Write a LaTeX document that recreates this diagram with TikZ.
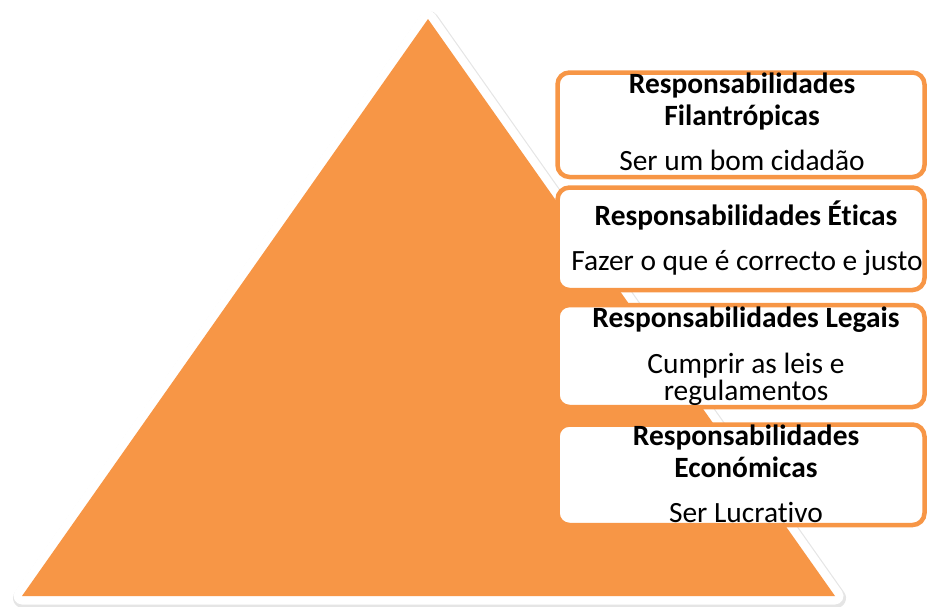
\documentclass[tikz,border=0pt]{standalone}
\usepackage{fontspec}
\setmainfont{Carlito}[Ligatures={NoCommon}]
\definecolor{pyramid}{HTML}{F79646}
\begin{document}
\begin{tikzpicture}[x=1pt,y=-1pt,
  levelbox/.style={draw=pyramid, line width=4.5pt, fill=white, rounded corners=12pt},
  head/.style={anchor=base, inner sep=0pt, font=\fontsize{29.4}{32}\selectfont\bfseries},
  body/.style={anchor=base, inner sep=0pt, font=\fontsize{29.4}{32}\selectfont}]
\useasboundingbox (0,0) rectangle (928,606);
% pyramid corners
\coordinate (apex) at (428,19);
\coordinate (bl) at (22,596);
\coordinate (br) at (835,596);
% soft shadow, white rim, orange body
\draw[black, opacity=0.10, line width=20pt, line join=round]
  ([shift={(1,2)}]apex) -- ([shift={(1,2)}]bl) -- ([shift={(1,2)}]br) -- cycle;
\draw[white, line width=17pt, line join=round] (apex) -- (bl) -- (br) -- cycle;
\fill[pyramid] (apex) -- (bl) -- (br) -- cycle;
% level boxes
\draw[levelbox] (557.5,72.5) rectangle (924.5,177) coordinate (b1);
\draw[levelbox] (557.5,187.5) rectangle (924.5,290) coordinate (b2);
\draw[levelbox] (557.5,305) rectangle (924.5,407) coordinate (b3);
\draw[levelbox] (557.5,424.5) rectangle (924.5,525) coordinate (b4);
% texts
\node[head] (h1a) at (742,93) {Responsabilidades};
\node[head] (h1b) at (742,125) {Filantrópicas};
\node[body] (s1) at (742,170) {Ser um bom cidadão};
\node[head] (h2) at (746,225) {Responsabilidades Éticas};
\node[body] (s2) at (747,270) {Fazer o que é correcto e justo};
\node[head] (h3) at (746,327) {Responsabilidades Legais};
\node[body] (s3a) at (746,373) {Cumprir as leis e};
\node[body] (s3b) at (746,400) {regulamentos};
\node[head] (h4a) at (746,445) {Responsabilidades};
\node[head] (h4b) at (746,477) {Económicas};
\node[body] (s4) at (746,522) {Ser Lucrativo};
\end{tikzpicture}
\end{document}
